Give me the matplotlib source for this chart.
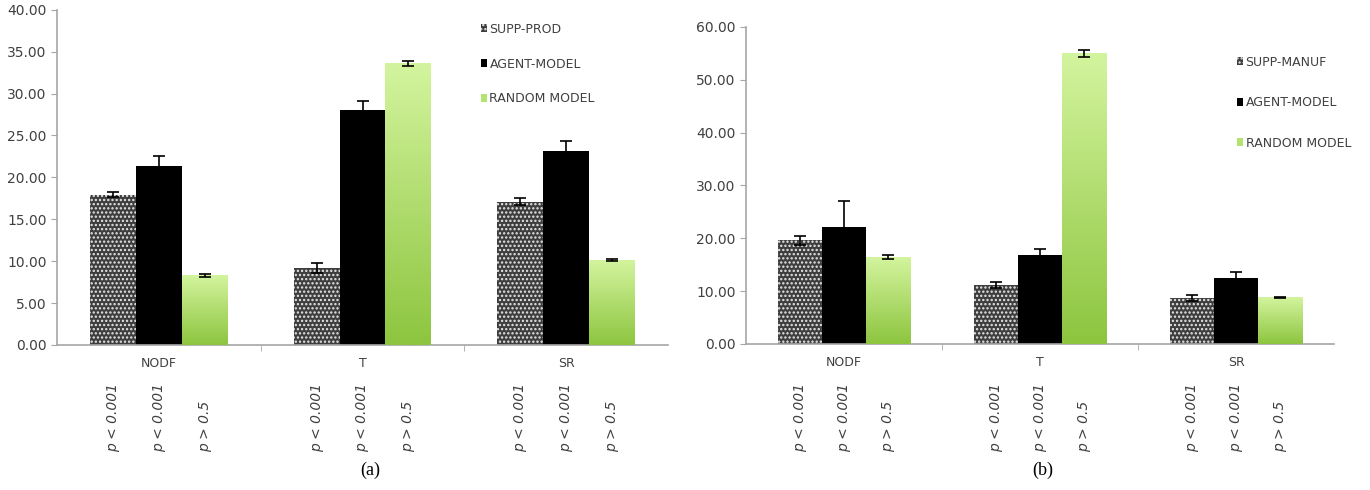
import numpy as np
import matplotlib
matplotlib.use("Agg")
import matplotlib.pyplot as plt
from matplotlib.colors import LinearSegmentedColormap

categories = ["NODF", "T", "SR"]
p_labels = ["p < 0.001", "p < 0.001", "p > 0.5"]

# panel (a)
a_names = ["SUPP-PROD", "AGENT-MODEL", "RANDOM MODEL"]
a_supp = [17.9, 9.2, 17.1]
a_supp_err = [0.3, 0.6, 0.4]
a_agent = [21.4, 28.1, 23.1]
a_agent_err = [1.2, 1.0, 1.2]
a_random = [8.3, 33.6, 10.1]
a_random_err = [0.2, 0.3, 0.1]

# panel (b)
b_names = ["SUPP-MANUF", "AGENT-MODEL", "RANDOM MODEL"]
b_supp = [19.6, 11.2, 8.7]
b_supp_err = [0.9, 0.6, 0.5]
b_agent = [22.2, 16.8, 12.4]
b_agent_err = [4.8, 1.2, 1.2]
b_random = [16.4, 55.0, 8.8]
b_random_err = [0.4, 0.6, 0.1]

plt.rcParams['hatch.linewidth'] = 1.1
green_cmap = LinearSegmentedColormap.from_list("g", ["#8dc53f", "#d3f49e"])
axis_gray = "#a6a6a6"
text_gray = "#404040"


def draw_panel(ax, names, supp, supp_err, agent, agent_err, rnd, rnd_err,
               ymax, ystep, legend_pos, legend_gap, plabel_y, caption_x):
    x = np.arange(len(categories))
    w = 0.225
    ekw = dict(ecolor="black", elinewidth=1.2, capsize=4, capthick=1.2)

    ax.bar(x - w, supp, w, color="#3e3e3e", edgecolor="#e8e8e8",
           hatch="....", linewidth=0, label=names[0], zorder=2)
    ax.errorbar(x - w, supp, yerr=supp_err, fmt="none", zorder=4, **ekw)
    ax.bar(x, agent, w, color="black", linewidth=0, label=names[1], zorder=2)
    ax.errorbar(x, agent, yerr=agent_err, fmt="none", zorder=4, **ekw)
    b3 = ax.bar(x + w, rnd, w, color="#b4e36f", linewidth=0, label=names[2], zorder=2)
    ax.errorbar(x + w, rnd, yerr=rnd_err, fmt="none", zorder=4, **ekw)

    grad = np.linspace(0, 1, 256).reshape(-1, 1)
    for bar in b3:
        bx, by = bar.get_x(), bar.get_y()
        bw, bh = bar.get_width(), bar.get_height()
        im = ax.imshow(grad, cmap=green_cmap, origin="lower", aspect="auto",
                       extent=[bx, bx + bw, by, by + bh], zorder=3)
        im.set_clip_path(bar)

    ax.set_xlim(-0.5, len(categories) - 0.5)
    ax.set_ylim(0, ymax)
    ticks = np.arange(0, ymax + 0.1, ystep)
    ax.set_yticks(ticks)
    ax.set_yticklabels([f"{v:.2f}" for v in ticks])
    ax.set_xticks(x)
    ax.set_xticklabels(categories)
    ax.set_xticks([0.5, 1.5], minor=True)
    ax.tick_params(axis="x", which="major", length=0, pad=9,
                   labelsize=9, labelcolor=text_gray)
    ax.tick_params(axis="x", which="minor", length=4, color=axis_gray)
    ax.tick_params(axis="y", length=4, color=axis_gray, labelsize=10,
                   labelcolor=text_gray)
    for s in ["top", "right"]:
        ax.spines[s].set_visible(False)
    for s in ["left", "bottom"]:
        ax.spines[s].set_color(axis_gray)
        ax.spines[s].set_linewidth(1.2)

    trans = ax.get_xaxis_transform()
    for i in range(len(categories)):
        for j, off in enumerate([-w, 0, w]):
            ax.text(x[i] + off, plabel_y, p_labels[j], rotation=90, ha="center",
                    va="bottom", style="italic", fontsize=10, color=text_gray,
                    transform=trans)

    ax.legend(loc="upper left", bbox_to_anchor=legend_pos, frameon=False,
              fontsize=9, handlelength=0.5, handleheight=0.6,
              handletextpad=0.2, labelspacing=legend_gap,
              labelcolor=text_gray)


fig = plt.figure(figsize=(13.7, 4.9), dpi=100)
ax1 = fig.add_axes([0.0416, 0.296, 0.446, 0.684])
ax2 = fig.add_axes([0.5445, 0.298, 0.4295, 0.647])

draw_panel(ax1, a_names, a_supp, a_supp_err, a_agent, a_agent_err,
           a_random, a_random_err, 40, 5, (0.675, 0.995), 1.75, -0.32, 370)
draw_panel(ax2, b_names, b_supp, b_supp_err, b_agent, b_agent_err,
           b_random, b_random_err, 60, 10, (0.815, 0.945), 2.2, -0.34, 1043)

fig.text(370 / 1370, 0.04, "(a)", ha="center", va="center", fontsize=13,
         family="Liberation Serif")
fig.text(1043 / 1370, 0.04, "(b)", ha="center", va="center", fontsize=13,
         family="Liberation Serif")

fig.savefig("out.png", dpi=100)
